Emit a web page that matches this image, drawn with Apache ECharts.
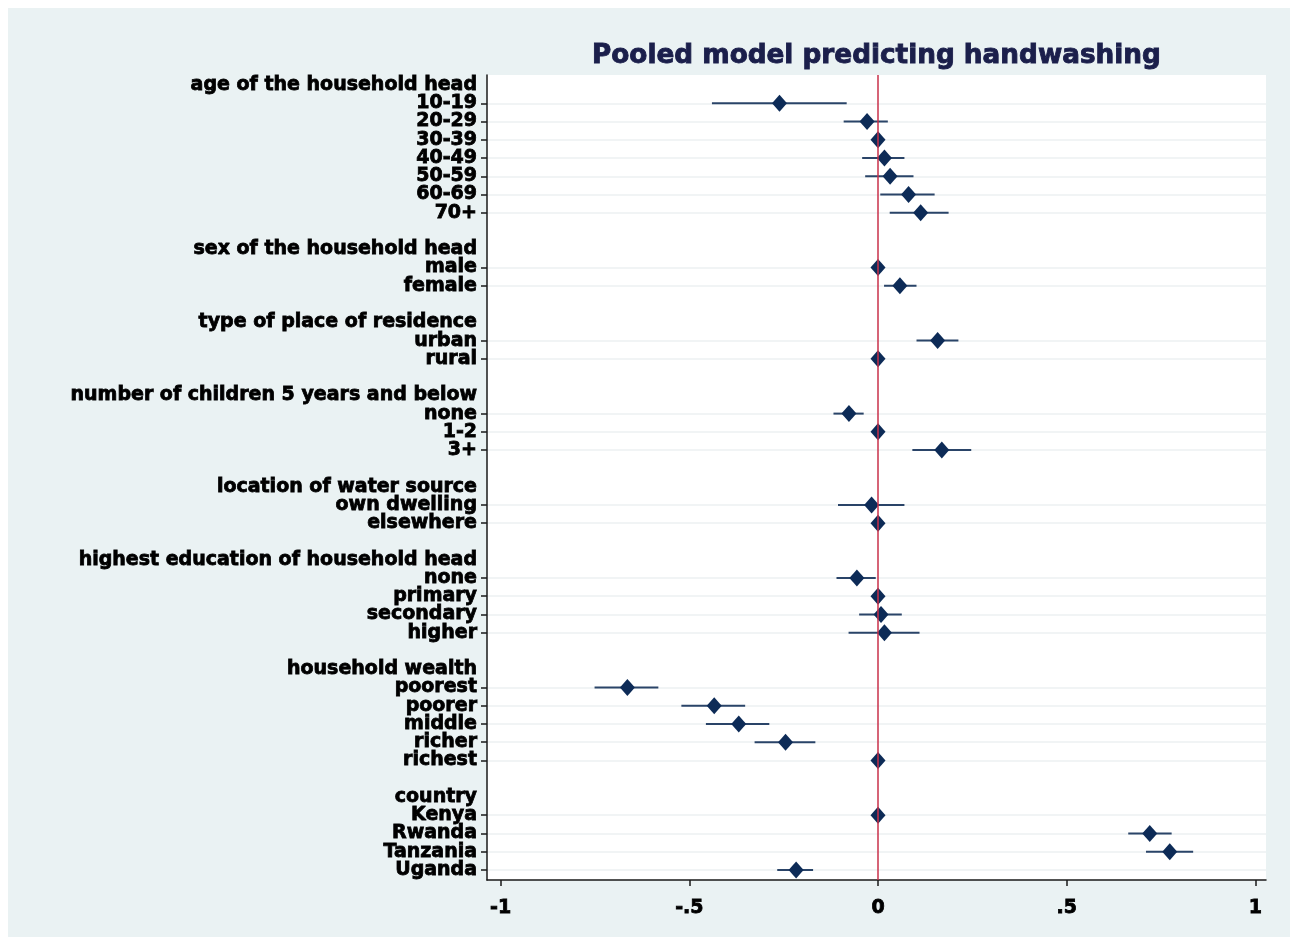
<!DOCTYPE html>
<html><head><meta charset="utf-8">
<script src="https://cdn.jsdelivr.net/npm/echarts@6/dist/echarts.min.js"></script>
<style>html,body{margin:0;padding:0;background:#fff}#c{width:1295px;height:942px}</style>
</head><body><div id="c"></div>
<script>
// ---- data (rows top to bottom; '' = spacer row, null coef = header/spacer) ----
const rowLabels = [
  'age of the household head','10-19','20-29','30-39','40-49','50-59','60-69','70+','',
  'sex of the household head','male','female','',
  'type of place of residence','urban','rural','',
  'number of children 5 years and below','none','1-2','3+','',
  'location of water source','own dwelling','elsewhere','',
  'highest education of household head','none','primary','secondary','higher','',
  'household wealth','poorest','poorer','middle','richer','richest','',
  'country','Kenya','Rwanda','Tanzania','Uganda'
];
const coef = [
  null,-0.261,-0.029,0,0.017,0.032,0.081,0.113,null,
  null,0,0.058,null,
  null,0.158,0,null,
  null,-0.077,0,0.169,null,
  null,-0.017,0,null,
  null,-0.056,0,0.008,0.017,null,
  null,-0.664,-0.434,-0.369,-0.245,0,null,
  null,0,0.720,0.773,-0.217
];
const ciLow = [
  null,-0.440,-0.091,null,-0.042,-0.034,0.006,0.031,null,
  null,null,0.016,null,
  null,0.102,null,null,
  null,-0.118,null,0.091,null,
  null,-0.106,null,null,
  null,-0.110,null,-0.050,-0.078,null,
  null,-0.751,-0.521,-0.456,-0.327,null,null,
  null,null,0.663,0.710,-0.267
];
const ciHigh = [
  null,-0.083,0.026,null,0.070,0.094,0.150,0.187,null,
  null,null,0.102,null,
  null,0.213,null,null,
  null,-0.038,null,0.247,null,
  null,0.070,null,null,
  null,-0.006,null,0.063,0.110,null,
  null,-0.582,-0.352,-0.288,-0.166,null,null,
  null,null,0.778,0.835,-0.172
];
const xTickValues = [-1,-0.5,0,0.5,1];
const xTickLabels = ['-1','-.5','0','.5','1'];
const titleText = 'Pooled model predicting handwashing';

// ---- build ----
const Y_MIN = -0.548, Y_MAX = 43.548;
const pointData = [], barData = [], labelRows = [Y_MIN], tickRows = [];
rowLabels.forEach((lab, i) => {
  if (lab !== '') labelRows.push(i);
  if (coef[i] !== null) {
    tickRows.push(i);
    pointData.push([coef[i], i]);
    if (ciLow[i] !== null) barData.push([ciLow[i], ciHigh[i], i]);
  }
});
labelRows.push(Y_MAX);
const FONT = 'DejaVu Sans';
const chart = echarts.init(document.getElementById('c'));
chart.setOption({
  backgroundColor: '#ffffff',
  animation: false,
  graphic: [{
    type: 'rect', z: -10, silent: true,
    shape: {x: 8, y: 8, width: 1282, height: 929},
    style: {fill: '#eaf2f3'}
  }],
  title: {
    text: titleText, left: 592, top: 43, padding: 0,
    textStyle: {fontFamily: FONT, fontWeight: 'bold', fontSize: 26.3, color: '#1b1f4b',
                textBorderColor: '#1b1f4b', textBorderWidth: 0.9}
  },
  grid: {
    left: 487, right: 29, top: 75, bottom: 62,
    show: true, backgroundColor: '#ffffff', borderWidth: 0
  },
  xAxis: {
    type: 'value', min: -1.036, max: 1.028,
    axisLine: {show: true, onZero: false, lineStyle: {color: '#1a1a1a', width: 1.5}},
    axisTick: {show: true, customValues: xTickValues, length: 6, lineStyle: {color: '#1a1a1a', width: 1.5}},
    axisLabel: {
      customValues: xTickValues, margin: 19, showMinLabel: true, showMaxLabel: true,
      formatter: v => xTickLabels[xTickValues.indexOf(v)] ?? '',
      fontFamily: FONT, fontWeight: 'bold', fontSize: 19, color: '#000',
      textBorderColor: '#000', textBorderWidth: 0.8
    },
    splitLine: {show: false}
  },
  yAxis: {
    type: 'value', inverse: true, min: Y_MIN, max: Y_MAX,
    axisLine: {show: true, onZero: false, lineStyle: {color: '#1a1a1a', width: 1.5}},
    axisTick: {show: true, customValues: tickRows, length: 6, lineStyle: {color: '#1a1a1a', width: 1.5}},
    axisLabel: {
      customValues: labelRows, margin: 10, hideOverlap: false,
      showMinLabel: false, showMaxLabel: false, padding: [4, 0, 0, 0],
      formatter: v => (Number.isInteger(v) ? rowLabels[v] : '') || '',
      fontFamily: FONT, fontWeight: 'bold', fontSize: 19, color: '#000',
      textBorderColor: '#000', textBorderWidth: 0.8
    },
    splitLine: {show: true, lineStyle: {color: '#edf1f2', width: 1.5}}
  },
  series: [
    {
      type: 'custom', data: barData, silent: true, z: 2,
      renderItem: (params, api) => {
        const p1 = api.coord([api.value(0), api.value(2)]);
        const p2 = api.coord([api.value(1), api.value(2)]);
        return {type: 'line', shape: {x1: p1[0], y1: p1[1], x2: p2[0], y2: p2[1]},
                style: {stroke: '#2a4468', lineWidth: 2}};
      },
      markLine: {
        silent: true, symbol: 'none', label: {show: false},
        lineStyle: {color: '#c8304a', width: 1.5, type: 'solid'},
        data: [{xAxis: 0}]
      }
    },
    {
      type: 'scatter', data: pointData, symbol: 'diamond', symbolSize: [15, 17], z: 3,
      itemStyle: {color: '#0d2b57', opacity: 1}, silent: true
    }
  ]
});
</script></body></html>
